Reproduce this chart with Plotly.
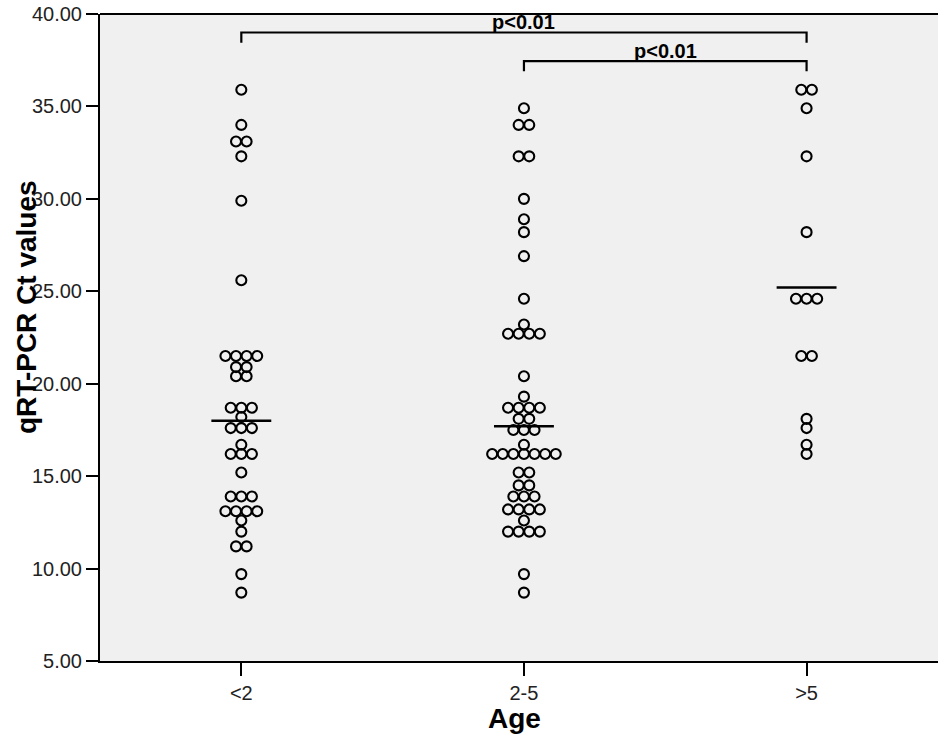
import plotly.graph_objects as go
from collections import Counter

# ---- data ----
categories = ["<2", "2-5", ">5"]

ct_lt2 = [35.9, 34.0, 33.1, 33.1, 32.3, 29.9, 25.6,
          21.5, 21.5, 21.5, 21.5, 20.9, 20.9, 20.4, 20.4,
          18.7, 18.7, 18.7, 18.2, 17.6, 17.6, 17.6, 16.7,
          16.2, 16.2, 16.2, 15.2, 13.9, 13.9, 13.9,
          13.1, 13.1, 13.1, 13.1, 12.6, 12.0, 11.2, 11.2, 9.7, 8.7]

ct_2to5 = [34.9, 34.0, 34.0, 32.3, 32.3, 30.0, 28.9, 28.2, 26.9, 24.6, 23.2,
           22.7, 22.7, 22.7, 22.7, 20.4, 19.3, 18.7, 18.7, 18.7, 18.7,
           18.1, 18.1, 17.5, 17.5, 17.5, 16.7,
           16.2, 16.2, 16.2, 16.2, 16.2, 16.2, 16.2,
           15.2, 15.2, 14.5, 14.5, 13.9, 13.9, 13.9,
           13.2, 13.2, 13.2, 13.2, 12.6, 12.0, 12.0, 12.0, 12.0, 9.7, 8.7]

ct_gt5 = [35.9, 35.9, 34.9, 32.3, 28.2, 24.6, 24.6, 24.6,
          21.5, 21.5, 18.1, 17.6, 16.7, 16.2]

center_lines = [18.0, 17.7, 25.2]

y_ticks = [5, 10, 15, 20, 25, 30, 35, 40]
y_tick_labels = ["5.00", "10.00", "15.00", "20.00", "25.00", "30.00", "35.00", "40.00"]

comparisons = [(0, 2, "p<0.01"), (1, 2, "p<0.01")]
bracket_levels = [39.0, 37.45]

groups = [ct_lt2, ct_2to5, ct_gt5]

# ---- layout helpers ----
DOT_STEP = 0.0375   # horizontal spacing of stacked dots (category units)
HALF_LINE = 0.106   # half width of the centre line
FONT = "Liberation Sans, Arial, sans-serif"

fig = go.Figure()

xs, ys = [], []
for gi, vals in enumerate(groups):
    counts = Counter(vals)
    seen = Counter()
    for v in vals:
        n = counts[v]
        i = seen[v]
        seen[v] += 1
        xs.append(gi + (i - (n - 1) / 2) * DOT_STEP)
        ys.append(v)

fig.add_trace(go.Scatter(
    x=xs, y=ys, mode="markers",
    marker=dict(symbol="circle-open", size=10, color="black",
                line=dict(color="black", width=2.1)),
    hoverinfo="y", showlegend=False))

lx, ly = [], []
for gi, m in enumerate(center_lines):
    lx += [gi - HALF_LINE, gi + HALF_LINE, None]
    ly += [m, m, None]
fig.add_trace(go.Scatter(x=lx, y=ly, mode="lines",
                         line=dict(color="black", width=2.5),
                         hoverinfo="skip", showlegend=False))

# significance brackets
bx, by = [], []
for (a, b, txt), lev in zip(comparisons, bracket_levels):
    drop = 0.55
    bx += [a, a, b, b, None]
    by += [lev - drop, lev, lev, lev - drop, None]
    fig.add_annotation(x=(a + b) / 2, y=lev, xref="x", yref="y",
                       text="<b>" + txt + "</b>", showarrow=False,
                       yanchor="bottom", yshift=-3,
                       font=dict(family=FONT, size=20, color="black"))
fig.add_trace(go.Scatter(x=bx, y=by, mode="lines",
                         line=dict(color="black", width=2.2),
                         hoverinfo="skip", showlegend=False))

# top border
fig.add_shape(type="line", xref="paper", yref="paper", x0=0, x1=1, y0=1, y1=1,
              line=dict(color="black", width=2.2))

fig.update_layout(
    width=938, height=742,
    margin=dict(l=100, r=0, t=14, b=81),
    paper_bgcolor="white", plot_bgcolor="#f0f0f0",
    font=dict(family=FONT, color="#222222"),
    showlegend=False,
)

fig.update_xaxes(
    range=[-0.5, 2.465], tickmode="array", tickvals=[0, 1, 2], ticktext=categories,
    showgrid=False, zeroline=False, showline=True, linecolor="black", linewidth=2,
    ticks="outside", ticklen=13, tickwidth=2, tickcolor="black",
    tickfont=dict(size=20, color="#222222"),
)
fig.update_yaxes(
    range=[5, 40], tickmode="array", tickvals=y_ticks, ticktext=y_tick_labels,
    showgrid=False, zeroline=False, showline=True, linecolor="black", linewidth=2,
    ticks="outside", ticklen=12, tickwidth=2, tickcolor="black",
    tickfont=dict(size=20, color="#222222"),
)

fig.add_annotation(text="<b>qRT-PCR Ct values</b>", textangle=-90,
                   xref="paper", yref="paper", x=(27 - 100) / 838, y=(661 - 307) / 647,
                   xanchor="center", yanchor="middle",
                   showarrow=False, font=dict(family=FONT, size=28, color="black"))
fig.add_annotation(text="<b>Age</b>",
                   xref="paper", yref="paper", x=(514 - 100) / 838, y=(661 - 718) / 647,
                   xanchor="center", yanchor="middle",
                   showarrow=False, font=dict(family=FONT, size=28, color="black"))

fig.write_html("out.html", config={"displayModeBar": False},
               post_script="document.body.style.margin='0';")
